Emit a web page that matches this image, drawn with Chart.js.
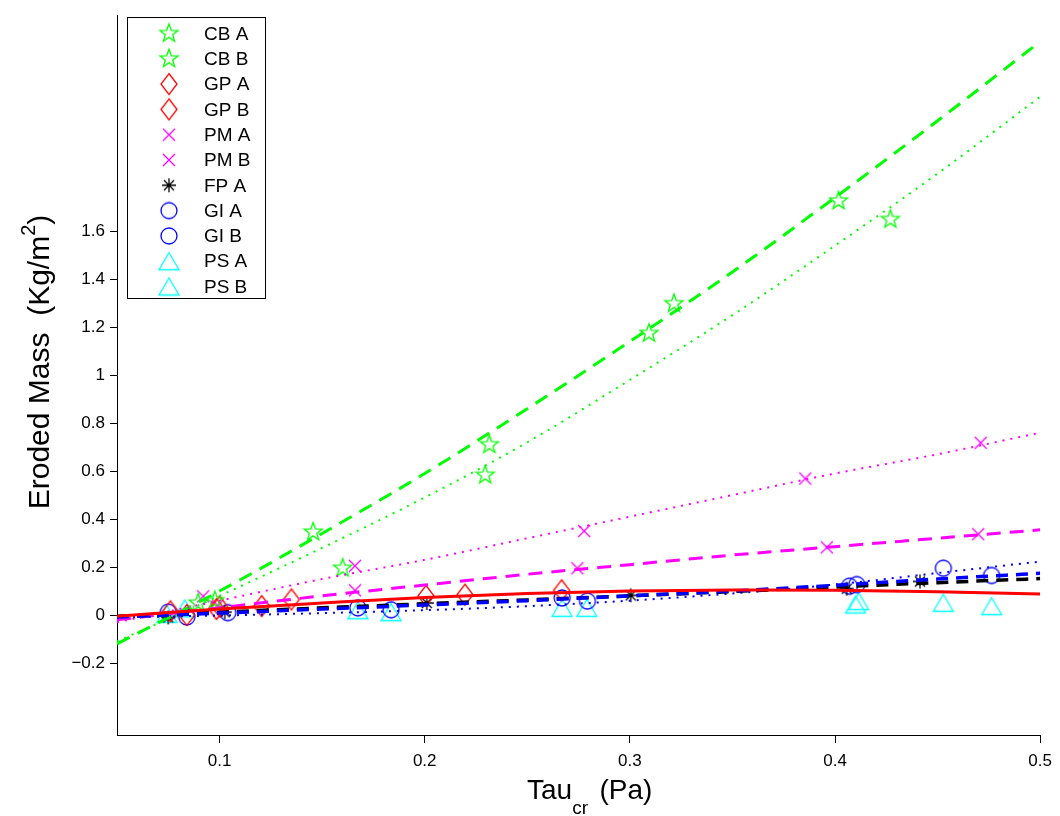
<!DOCTYPE html>
<html lang="en">
<head>
<meta charset="UTF-8">
<title>Eroded Mass vs Tau cr</title>
<style type="text/css">
  body { margin: 0; background: #fff; }
  .chartBox { width: 1060px; height: 816px; }
</style>
</head>
<body>
<div class="chartBox">
  <canvas id="myChart" width="1060" height="816"></canvas>
</div>
<script src="https://cdn.jsdelivr.net/npm/chart.js"></script>
<script>
// tick labels
const xTicks = [0.1, 0.2, 0.3, 0.4, 0.5];
const yTicks = [-0.2, 0, 0.2, 0.4, 0.6, 0.8, 1, 1.2, 1.4, 1.6];

// fitted curves
const fitX   = [0.05, 0.1, 0.15, 0.2, 0.25, 0.3, 0.35, 0.4, 0.45, 0.5];
const cbAFit = [-0.12, 0.10, 0.34, 0.59, 0.86, 1.14, 1.43, 1.74, 2.06, 2.39];
const cbBFit = [-0.11, 0.08, 0.28, 0.49, 0.72, 0.98, 1.25, 1.54, 1.84, 2.16];
const pmAFit = [-0.03, 0.06, 0.15, 0.23, 0.32, 0.41, 0.50, 0.59, 0.67, 0.76];
const pmBFit = [-0.02, 0.03, 0.08, 0.125, 0.17, 0.21, 0.25, 0.285, 0.32, 0.355];
const gpFit  = [-0.005, 0.025, 0.05, 0.073, 0.09, 0.1, 0.104, 0.103, 0.097, 0.088];
const fpFit  = [-0.005, 0.012, 0.03, 0.047, 0.063, 0.08, 0.098, 0.117, 0.135, 0.152];
const giAFit = [-0.008, 0.008, 0.025, 0.042, 0.06, 0.08, 0.1, 0.124, 0.15, 0.174];
const giBFit = [-0.01, -0.002, 0.008, 0.02, 0.037, 0.06, 0.09, 0.127, 0.175, 0.223];

// measured points
const cbAx = [0.0977, 0.1456, 0.2315, 0.3215, 0.4017];
const cbAy = [0.06, 0.346, 0.71, 1.298, 1.726];
const cbBx = [0.0896, 0.160, 0.2295, 0.3093, 0.427];
const cbBy = [0.05, 0.195, 0.583, 1.174, 1.649];
const gpAx = [0.076, 0.1, 0.135, 0.2196, 0.2667];
const gpAy = [0.015, 0.035, 0.065, 0.085, 0.103];
const gpBx = [0.084, 0.0985, 0.1205, 0.2006];
const gpBy = [0.0, 0.025, 0.037, 0.08];
const pmAx = [0.092, 0.166, 0.2777, 0.3855, 0.471];
const pmAy = [0.078, 0.205, 0.35, 0.569, 0.718];
const pmBx = [0.099, 0.166, 0.2744, 0.396, 0.4698];
const pmBy = [0.04, 0.103, 0.195, 0.282, 0.337];
const fpAx = [0.075, 0.1025, 0.201, 0.3004, 0.4057, 0.4414];
const fpAy = [-0.01, 0.012, 0.05, 0.082, 0.11, 0.14];
const giAx = [0.075, 0.104, 0.1674, 0.267, 0.4106, 0.4763];
const giAy = [0.012, 0.01, 0.03, 0.071, 0.127, 0.165];
const giBx = [0.084, 0.1836, 0.2793, 0.407, 0.4528];
const giBy = [-0.008, 0.022, 0.058, 0.12, 0.195];
const psAx = [0.0743, 0.1674, 0.267, 0.41, 0.4528];
const psAy = [0.005, 0.02, 0.03, 0.044, 0.051];
const psBx = [0.083, 0.1836, 0.279, 0.4115, 0.4763];
const psBy = [0.028, 0.012, 0.03, 0.058, 0.037];

const legendLabels = ['CB A', 'CB B', 'GP A', 'GP B', 'PM A', 'PM B', 'FP A', 'GI A', 'GI B', 'PS A', 'PS B'];

const GREEN = '#00ff00', RED = '#ff0000', MAG = '#ff00ff', BLUE = '#0000ff', CYAN = '#00ffff', BLACK = '#000000';

// matlab-ish marker images
function makeMarker(kind, color) {
  const c = document.createElement('canvas');
  c.width = 26; c.height = 26;
  const g = c.getContext('2d');
  g.strokeStyle = color;
  g.lineWidth = 1.3;
  g.translate(13, 13);
  g.beginPath();
  if (kind === 'pentagram') {
    for (let i = 0; i < 10; i++) {
      const r = i % 2 === 0 ? 9.5 : 3.9;
      const a = -Math.PI / 2 + i * Math.PI / 5;
      if (i === 0) g.moveTo(r * Math.cos(a), r * Math.sin(a));
      else g.lineTo(r * Math.cos(a), r * Math.sin(a));
    }
    g.closePath();
  } else if (kind === 'diamond') {
    g.moveTo(0, -10.5); g.lineTo(8, 0); g.lineTo(0, 10.5); g.lineTo(-8, 0); g.closePath();
  } else if (kind === 'x') {
    g.moveTo(-6, -6); g.lineTo(6, 6); g.moveTo(6, -6); g.lineTo(-6, 6);
  } else if (kind === 'asterisk') {
    g.moveTo(-7, 0); g.lineTo(7, 0); g.moveTo(0, -7); g.lineTo(0, 7);
    g.moveTo(-5, -5); g.lineTo(5, 5); g.moveTo(5, -5); g.lineTo(-5, 5);
  } else if (kind === 'circle') {
    g.arc(0, 0, 8, 0, Math.PI * 2);
  } else if (kind === 'triangle') {
    g.moveTo(0, -8.5); g.lineTo(10, 8.5); g.lineTo(-10, 8.5); g.closePath();
  }
  g.stroke();
  return c;
}

const mk = {
  cb: makeMarker('pentagram', GREEN),
  gp: makeMarker('diamond', RED),
  pm: makeMarker('x', MAG),
  fp: makeMarker('asterisk', BLACK),
  gi: makeMarker('circle', BLUE),
  ps: makeMarker('triangle', CYAN)
};
const legendMarkers = [mk.cb, mk.cb, mk.gp, mk.gp, mk.pm, mk.pm, mk.fp, mk.gi, mk.gi, mk.ps, mk.ps];

function pts(xs, ys) { return xs.map((x, i) => ({x: x, y: ys[i]})); }

function fitLine(ys, color, width, dash) {
  return {
    type: 'line', data: pts(fitX, ys), borderColor: color, borderWidth: width,
    borderDash: dash, pointRadius: 0, cubicInterpolationMode: 'monotone', fill: false
  };
}
function markerSet(label, xs, ys, img) {
  return {
    type: 'line', label: label, data: pts(xs, ys), showLine: false,
    pointStyle: img, pointRadius: 10, borderColor: 'rgba(0,0,0,0)', backgroundColor: 'rgba(0,0,0,0)'
  };
}

// first dataset ends up on top
const datasets = [
  fitLine(gpFit, RED, 3, []),
  fitLine(giAFit, BLUE, 3.5, [12, 8]),
  fitLine(fpFit, BLACK, 3.5, [12, 8]),
  fitLine(giBFit, BLUE, 2, [2, 6]),
  fitLine(pmBFit, MAG, 3, [14, 9]),
  fitLine(pmAFit, MAG, 2, [2, 6]),
  fitLine(cbAFit, GREEN, 3, [14, 9]),
  fitLine(cbBFit, GREEN, 2, [2, 6]),
  markerSet('CB A', cbAx, cbAy, mk.cb),
  markerSet('CB B', cbBx, cbBy, mk.cb),
  markerSet('GP A', gpAx, gpAy, mk.gp),
  markerSet('GP B', gpBx, gpBy, mk.gp),
  markerSet('PM A', pmAx, pmAy, mk.pm),
  markerSet('PM B', pmBx, pmBy, mk.pm),
  markerSet('FP A', fpAx, fpAy, mk.fp),
  markerSet('GI A', giAx, giAy, mk.gi),
  markerSet('GI B', giBx, giBy, mk.gi),
  markerSet('PS A', psAx, psAy, mk.ps),
  markerSet('PS B', psBx, psBy, mk.ps)
];

const FONT = '"Liberation Sans", Arial, Helvetica, sans-serif';

// legend box + axis titles (sub/superscripts) drawn by hand
const extras = {
  id: 'extras',
  afterDraw(chart) {
    const ctx = chart.ctx;
    ctx.save();
    // legend
    ctx.fillStyle = '#fff';
    ctx.fillRect(127.5, 17.5, 138, 281);
    ctx.strokeStyle = '#000';
    ctx.lineWidth = 1;
    ctx.strokeRect(127.5, 17.5, 138, 281);
    ctx.font = '19px ' + FONT;
    ctx.fillStyle = '#000';
    ctx.textBaseline = 'middle';
    ctx.textAlign = 'left';
    legendLabels.forEach((lab, i) => {
      const y = 33.5 + i * 25.3;
      const img = legendMarkers[i];
      ctx.drawImage(img, 169 - img.width / 2, y - img.height / 2);
      ctx.fillText(lab, 204, y + 1);
    });

    // x title: Tau_cr (Pa)
    ctx.textBaseline = 'alphabetic';
    ctx.font = '28px ' + FONT;
    let x = 527;
    ctx.fillText('Tau', x, 799);
    x += ctx.measureText('Tau').width;
    ctx.font = '19px ' + FONT;
    ctx.fillText('cr', x, 814);
    x += ctx.measureText('cr').width;
    ctx.font = '28px ' + FONT;
    ctx.fillText('  (Pa)', x - 4, 799);

    // y title: Eroded Mass (Kg/m^2)
    ctx.translate(49, 362);
    ctx.rotate(-Math.PI / 2);
    const a = 'Eroded Mass  (Kg/m', b = '2', c = ')';
    ctx.font = '30px ' + FONT;
    const wa = ctx.measureText(a).width, wc = ctx.measureText(c).width;
    ctx.font = '20px ' + FONT;
    const wb = ctx.measureText(b).width;
    const sx = -(wa + wb + wc) / 2;
    ctx.font = '30px ' + FONT;
    ctx.fillText(a, sx, 0);
    ctx.font = '20px ' + FONT;
    ctx.fillText(b, sx + wa, -14);
    ctx.font = '30px ' + FONT;
    ctx.fillText(c, sx + wa + wb, 0);
    ctx.restore();
  }
};

function fmt(v) {
  const s = String(Math.round(v * 10) / 10);
  return s.replace('-', '\u2212');
}

const config = {
  type: 'line',
  data: { datasets },
  options: {
    responsive: false,
    devicePixelRatio: 1,
    animation: false,
    layout: { padding: { left: 0, right: 18, top: 8, bottom: 0 } },
    plugins: { legend: { display: false }, tooltip: { enabled: false } },
    scales: {
      x: {
        type: 'linear', min: 0.05, max: 0.5,
        afterBuildTicks: (axis) => { axis.ticks = xTicks.map(v => ({value: v})); },
        afterFit: (axis) => { axis.height = 81; },
        ticks: { color: '#000', font: { family: FONT, size: 17 }, padding: 8, maxRotation: 0, callback: fmt },
        grid: { drawOnChartArea: false, drawTicks: true, tickLength: 8, color: '#000' },
        border: { display: true, color: '#000', width: 1 }
      },
      y: {
        type: 'linear', min: -0.5, max: 2.5,
        afterBuildTicks: (axis) => { axis.ticks = yTicks.map(v => ({value: v})); },
        afterFit: (axis) => { axis.width = 117; },
        ticks: { color: '#000', font: { family: FONT, size: 17 }, padding: 5, callback: fmt },
        grid: { drawOnChartArea: false, drawTicks: true, tickLength: 7, color: '#000' },
        border: { display: true, color: '#000', width: 1 }
      }
    }
  },
  plugins: [extras]
};

const myChart = new Chart(document.getElementById('myChart'), config);
</script>
</body>
</html>
